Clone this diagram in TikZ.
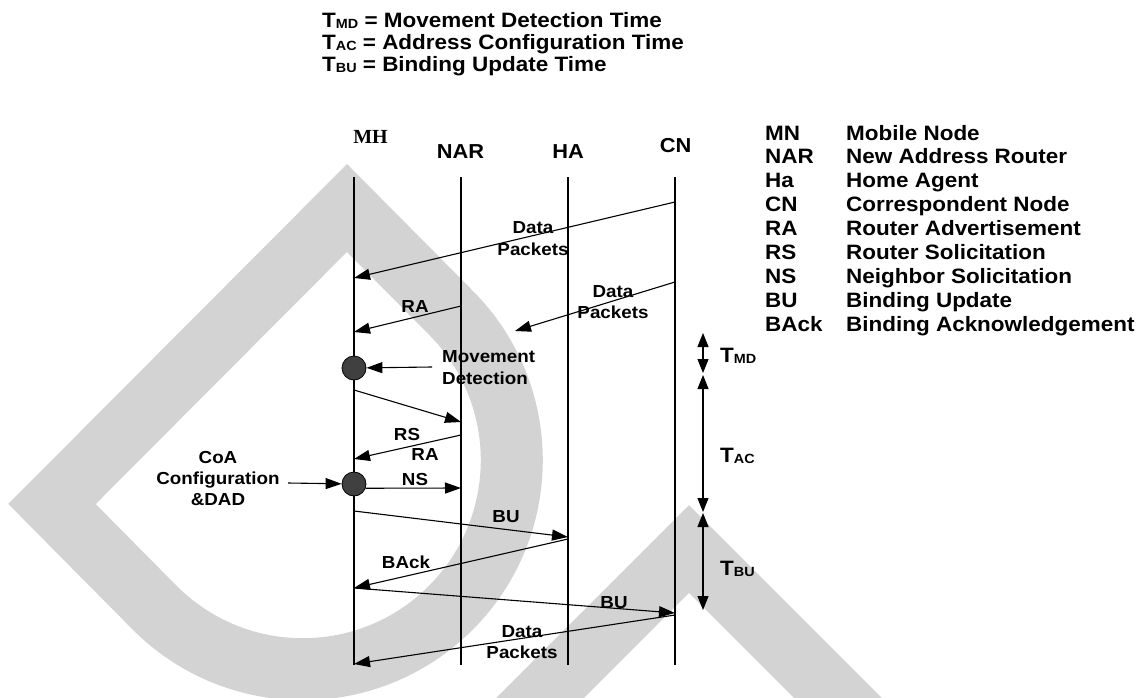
\documentclass[tikz,border=0pt]{standalone}
\usepackage{fontspec}
\setmainfont{Liberation Sans}[FakeStretch=1.08]
\newfontfamily\serifb{Liberation Serif}
\usetikzlibrary{arrows.meta}
\definecolor{wm}{RGB}{211,211,211}
\definecolor{dotgray}{RGB}{64,64,64}
\newcommand{\tsub}[1]{T\raisebox{-1.2pt}{\scalebox{0.64}{#1}}}
\tikzset{
  life/.style={line width=1.2pt},
  msg/.style={line width=1.1pt, -{Triangle[length=16pt,width=11pt]}},
  span/.style={line width=1.1pt, {Triangle[length=14pt,width=11pt]}-{Triangle[length=14pt,width=11pt]}},
  lbl/.style={font=\fontsize{17.4}{20}\selectfont\bfseries, inner sep=0pt, anchor=base},
  hdr/.style={font=\fontsize{20.2}{22}\selectfont\bfseries, inner sep=0pt, anchor=base},
  leg/.style={font=\fontsize{20.8}{22}\selectfont\bfseries, inner sep=0pt, anchor=base west},
  dotc/.style={circle, fill=dotgray, draw=black, line width=0.8pt, minimum size=24pt, inner sep=0pt},
  band/.style={line width=62pt, draw=wm, line join=miter},
}
\begin{document}
\begin{tikzpicture}[x=1pt,y=-1pt]
\useasboundingbox (0,0) rectangle (1142,698);
% watermark
\begin{scope}
\clip (0,0) rectangle (1142,698);
\draw[band] (347,208) -- (52,504) -- (155,608) arc[start angle=225,end angle=405,radius=209pt] -- cycle;
\draw[band] (489,749) -- (689,549) -- (889,749);
\end{scope}

% top legend
\node[leg] (lmd) at (322,27.5) {\tsub{MD} = Movement Detection Time};
\node[leg] (lac) at (322,49.5) {\tsub{AC} = Address Configuration Time};
\node[leg] (lbu) at (322,71.5) {\tsub{BU} = Binding Update Time};

% headers
\node[hdr, font=\serifb\fontsize{20}{22}\selectfont\bfseries] (hmh) at (370.5,143) {MH};
\node[hdr] (hnar) at (460.5,158) {NAR};
\node[hdr] (hha) at (568,158) {HA};
\node[hdr] (hcn) at (675.5,152) {CN};

% lifelines
\foreach \n/\x in {MH/354,NAR/461,HA/568,CN/675}{
  \coordinate (\n-t) at (\x,177);
  \coordinate (\n-b) at (\x,665);
  \draw[life] (\n-t) -- (\n-b);
}

% right legend
\foreach \a/\d [count=\i from 0] in {MN/Mobile Node,NAR/New Address Router,Ha/Home Agent,CN/Correspondent Node,RA/Router Advertisement,RS/Router Solicitation,NS/Neighbor Solicitation,BU/Binding Update,BAck/Binding Acknowledgement}{
  \node[leg] (ka\i) at (765,140+23.9*\i) {\a};
  \node[leg] (kd\i) at (846,140+23.9*\i) {\d};
}

% message end points
\coordinate (d1s) at (675,202); \coordinate (d1e) at (354,278);
\coordinate (d2s) at (675,282); \coordinate (d2e) at (515,331);
\coordinate (ra1s) at (461,306); \coordinate (ra1e) at (354,332);
\coordinate (rss) at (354,390); \coordinate (rse) at (461,422);
\coordinate (ra2s) at (461,435); \coordinate (ra2e) at (354,459);
\coordinate (nse) at (461,488);
\coordinate (bu1s) at (354,511); \coordinate (bu1e) at (568,537);
\coordinate (bks) at (568,539); \coordinate (bke) at (354,588);
\coordinate (bu2s) at (354,588); \coordinate (bu2e) at (675,613);
\coordinate (d3s) at (675,615); \coordinate (d3e) at (354,664);
\coordinate (mvs) at (432,367);
\coordinate (coas) at (288,483);

% event dots
\node[dotc] (md) at (354,368) {};
\node[dotc] (coa) at (354,484) {};

% messages
\draw[msg] (d1s) -- (d1e);
\draw[msg] (d2s) -- (d2e);
\draw[msg] (ra1s) -- (ra1e);
\draw[msg] (mvs) -- (md);
\draw[msg] (rss) -- (rse);
\draw[msg] (ra2s) -- (ra2e);
\draw[msg] (coas) -- (coa);
\draw[msg] (coa.-20) -- (nse);
\draw[msg] (bu1s) -- (bu1e);
\draw[msg] (bks) -- (bke);
\draw[msg] (bu2s) -- (bu2e);
\draw[msg] (d3s) -- (d3e);

% labels
\node[lbl] (t1a) at (533,233) {Data};
\node[lbl] (t1b) at (533,255) {Packets};
\node[lbl] (t2a) at (613,297) {Data};
\node[lbl] (t2b) at (613,318) {Packets};
\node[lbl] (tra1) at (415,312) {RA};
\node[lbl, anchor=base west] (tmv1) at (442,362) {Movement};
\node[lbl, anchor=base west] (tmv2) at (442,384) {Detection};
\node[lbl] (trs) at (407,440) {RS};
\node[lbl] (tra2) at (425,460) {RA};
\node[lbl] (tns) at (415,485) {NS};
\node[lbl] (tc1) at (218,463) {CoA};
\node[lbl] (tc2) at (218,484) {Configuration};
\node[lbl] (tc3) at (218,505) {\&DAD};
\node[lbl] (tbu1) at (506,522) {BU};
\node[lbl] (tbk) at (406,568) {BAck};
\node[lbl] (tbu2) at (614,608) {BU};
\node[lbl] (t3a) at (522,637) {Data};
\node[lbl] (t3b) at (522,658) {Packets};

% time spans
\coordinate (tmd1) at (703,333); \coordinate (tmd2) at (703,373);
\coordinate (tac1) at (703,375); \coordinate (tac2) at (703,512);
\coordinate (tbu1c) at (703,513); \coordinate (tbu2c) at (703,610);
\draw[span] (tmd1) -- (tmd2);
\draw[span] (tac1) -- (tac2);
\draw[span] (tbu1c) -- (tbu2c);
\node[leg] (smd) at (720,362) {\tsub{MD}};
\node[leg] (sac) at (720,462) {\tsub{AC}};
\node[leg] (sbu) at (720,575) {\tsub{BU}};
\end{tikzpicture}
\end{document}
